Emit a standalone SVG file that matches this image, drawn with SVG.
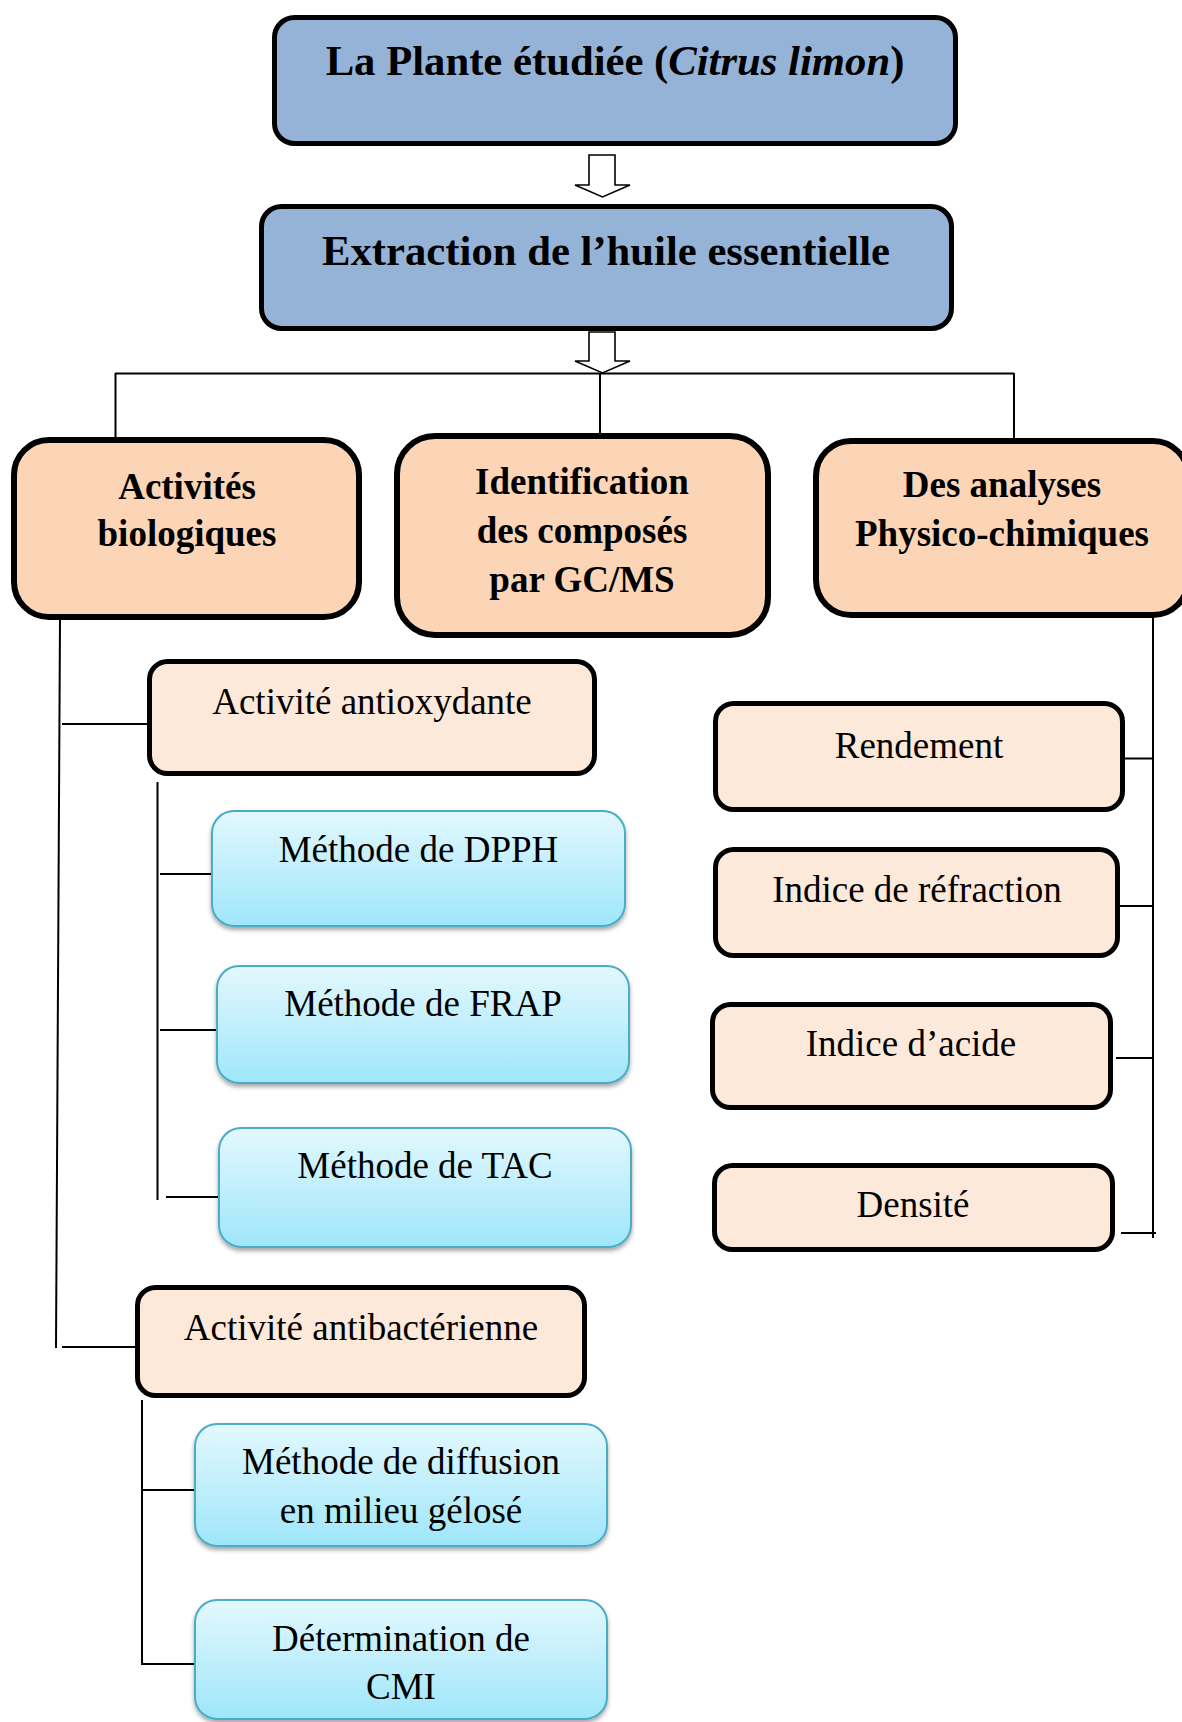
<svg xmlns="http://www.w3.org/2000/svg" width="1182" height="1722" viewBox="0 0 1182 1722">
<style>
text{font-family:"Liberation Serif","Times New Roman",serif;fill:#000;text-anchor:middle}
.h1{font-size:42.7px;font-weight:bold}
.h2{font-size:37px;font-weight:bold}
.t{font-size:37px}
.top{fill:#95B3D7;stroke:#000;stroke-width:5}
.org{fill:#FBD5B5;stroke:#000;stroke-width:6}
.pch{fill:#FDE9D9;stroke:#000;stroke-width:5}
.blu{fill:url(#bg);stroke:#4BACC6;stroke-width:2;filter:url(#sh)}
.ln{stroke:#000;stroke-width:2;fill:none}
.arr{fill:#fff;stroke:#000;stroke-width:1.6}
</style>
<defs>
<linearGradient id="bg" x1="0" y1="0" x2="0" y2="1">
<stop offset="0" stop-color="#E3F8FE"/>
<stop offset="1" stop-color="#9FE6FA"/>
</linearGradient>
<filter id="sh" x="-5%" y="-5%" width="110%" height="120%">
<feDropShadow dx="0" dy="3" stdDeviation="2" flood-color="#000" flood-opacity="0.35"/>
</filter>
</defs>
<rect width="1182" height="1722" fill="#fff"/>
<g id="connectors">
<path class="arr" d="M589,155 H615 V185 H630 L602.5,197 L575,185 H589 Z"/>
<path class="arr" d="M589,332 H615 V361 H630 L602.5,373 L575,361 H589 Z"/>
<line class="ln" x1="115" y1="373.5" x2="1014" y2="373.5"/>
<line class="ln" x1="115.5" y1="373" x2="115.5" y2="437"/>
<line class="ln" x1="600" y1="373" x2="600" y2="433"/>
<line class="ln" x1="1014" y1="373" x2="1014" y2="438"/>
<line class="ln" x1="60" y1="620" x2="56" y2="1348"/>
<line class="ln" x1="62" y1="724" x2="147" y2="724"/>
<line class="ln" x1="157.5" y1="782" x2="157.5" y2="1200"/>
<line class="ln" x1="160" y1="874" x2="211" y2="874"/>
<line class="ln" x1="160" y1="1030" x2="216" y2="1030"/>
<line class="ln" x1="166" y1="1197" x2="218" y2="1197"/>
<line class="ln" x1="62" y1="1347" x2="135" y2="1347"/>
<line class="ln" x1="142" y1="1400" x2="142" y2="1665"/>
<line class="ln" x1="141" y1="1490" x2="194" y2="1490"/>
<line class="ln" x1="143" y1="1664" x2="194" y2="1664"/>
<line class="ln" x1="1153" y1="618" x2="1153" y2="1238"/>
<line class="ln" x1="1125" y1="758.5" x2="1153" y2="758.5"/>
<line class="ln" x1="1120" y1="906" x2="1153" y2="906"/>
<line class="ln" x1="1116" y1="1058" x2="1153" y2="1058"/>
<line class="ln" x1="1121" y1="1233" x2="1156" y2="1233"/>
</g>
<g id="plante">
<rect class="top" x="274.5" y="17.5" width="681" height="126" rx="20"/>
<text class="h1" x="615" y="75">La Plante étudiée (<tspan font-style="italic">Citrus limon</tspan>)</text>
</g>
<g id="extraction">
<rect class="top" x="261.5" y="206.5" width="690" height="122" rx="20"/>
<text class="h1" x="606" y="265">Extraction de l’huile essentielle</text>
</g>
<g id="activites">
<rect class="org" x="14" y="440" width="345" height="177" rx="35"/>
<text class="h2" x="187" y="499">Activités</text>
<text class="h2" x="187" y="546">biologiques</text>
</g>
<g id="identification">
<rect class="org" x="397" y="436" width="371" height="199" rx="38"/>
<text class="h2" x="582" y="494">Identification</text>
<text class="h2" x="582" y="543">des composés</text>
<text class="h2" x="582" y="592">par GC/MS</text>
</g>
<g id="analyses">
<rect class="org" x="816" y="441" width="372" height="174" rx="35"/>
<text class="h2" x="1002" y="497">Des analyses</text>
<text class="h2" x="1002" y="546">Physico-chimiques</text>
</g>
<g id="antioxydante">
<rect class="pch" x="149.5" y="661.5" width="445" height="112" rx="18"/>
<text class="t" x="372" y="714">Activité antioxydante</text>
</g>
<g id="dpph">
<rect class="blu" x="212" y="811" width="413" height="115" rx="22"/>
<text class="t" x="418.5" y="862">Méthode de DPPH</text>
</g>
<g id="frap">
<rect class="blu" x="217" y="966" width="412" height="117" rx="22"/>
<text class="t" x="423" y="1016">Méthode de FRAP</text>
</g>
<g id="tac">
<rect class="blu" x="219" y="1128" width="412" height="119" rx="22"/>
<text class="t" x="425" y="1178">Méthode de TAC</text>
</g>
<g id="antibacterienne">
<rect class="pch" x="137.5" y="1287.5" width="447" height="108" rx="18"/>
<text class="t" x="361" y="1340">Activité antibactérienne</text>
</g>
<g id="diffusion">
<rect class="blu" x="195" y="1424" width="412" height="122" rx="22"/>
<text class="t" x="401" y="1474">Méthode de diffusion</text>
<text class="t" x="401" y="1523">en milieu gélosé</text>
</g>
<g id="cmi">
<rect class="blu" x="195" y="1600" width="412" height="119" rx="22"/>
<text class="t" x="401" y="1651">Détermination de</text>
<text class="t" x="401" y="1699">CMI</text>
</g>
<g id="rendement">
<rect class="pch" x="715.5" y="703.5" width="407" height="106" rx="18"/>
<text class="t" x="919" y="758">Rendement</text>
</g>
<g id="refraction">
<rect class="pch" x="715.5" y="849.5" width="402" height="106" rx="18"/>
<text class="t" x="917" y="902">Indice de réfraction</text>
</g>
<g id="acide">
<rect class="pch" x="712.5" y="1004.5" width="398" height="103" rx="18"/>
<text class="t" x="911" y="1056">Indice d’acide</text>
</g>
<g id="densite">
<rect class="pch" x="714.5" y="1165.5" width="398" height="84" rx="18"/>
<text class="t" x="913" y="1217">Densité</text>
</g>
</svg>
